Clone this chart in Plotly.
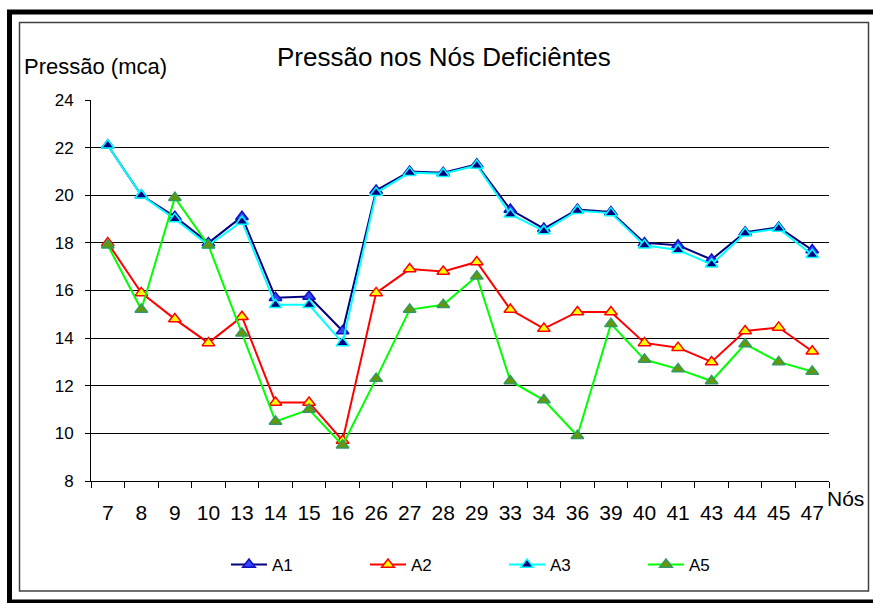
import plotly.graph_objects as go

nodes = ["7", "8", "9", "10", "13", "14", "15", "16", "26", "27", "28", "29",
         "33", "34", "36", "39", "40", "41", "43", "44", "45", "47"]

a1 = [22.1, 20.0, 19.1, 18.0, 19.1, 15.7, 15.75, 14.3, 20.2, 21.0, 20.95, 21.3,
      19.4, 18.6, 19.4, 19.3, 18.0, 17.9, 17.3, 18.45, 18.65, 17.7]
a2 = [18.0, 15.9, 14.8, 13.8, 14.9, 11.3, 11.3, 9.7, 15.9, 16.9, 16.8, 17.2,
      15.2, 14.4, 15.1, 15.1, 13.8, 13.6, 13.0, 14.3, 14.45, 13.45]
a3 = [22.1, 20.0, 19.0, 17.9, 18.9, 15.4, 15.4, 13.8, 20.1, 20.95, 20.9, 21.25,
      19.2, 18.5, 19.35, 19.25, 17.9, 17.7, 17.1, 18.4, 18.6, 17.5]
a5 = [17.9, 15.2, 19.9, 17.9, 14.2, 10.5, 11.0, 9.5, 12.3, 15.2, 15.4, 16.6,
      12.2, 11.4, 9.9, 14.6, 13.1, 12.7, 12.2, 13.75, 13.0, 12.6]

y_ticks = [8, 10, 12, 14, 16, 18, 20, 22, 24]

W, H = 873, 603
L, R, T, B = 91, 829, 100, 481


def px(x):
    return (x - L) / (R - L)


def py(y):
    return (B - y) / (B - T)


FONT = "Liberation Sans, Arial, sans-serif"

series = [
    ("A1", a1, "#000080", "#3344FF", "#1010C0"),
    ("A2", a2, "#FF0000", "#FFFF00", "#FF0000"),
    ("A3", a3, "#00FFFF", "#000080", "#00FFFF"),
    ("A5", a5, "#00FF00", "#669900", "#339966"),
]

fig = go.Figure()
for name, vals, lc, fill, outline in series:
    fig.add_trace(go.Scatter(
        x=nodes, y=vals, name=name, mode="lines+markers",
        line=dict(color=lc, width=2),
        marker=dict(symbol="triangle-up", size=11, color=fill,
                    line=dict(color=outline, width=1.5)),
    ))

fig.update_layout(
    width=W, height=H,
    margin=dict(l=L, r=W - R, t=T, b=H - B, pad=0),
    paper_bgcolor="white", plot_bgcolor="white",
    font=dict(family=FONT, size=17, color="black"),
    showlegend=True,
    legend=dict(orientation="h", x=px(226), y=py(565), xanchor="left", yanchor="middle",
                entrywidth=88, entrywidthmode="pixels", itemwidth=36,
                font=dict(size=17), bgcolor="rgba(0,0,0,0)"),
    xaxis=dict(type="category", range=[-0.5, len(nodes) - 0.5],
               showline=True, linecolor="black", linewidth=1,
               ticks="outside", ticklen=6, tickcolor="black", tickson="boundaries",
               tickangle=0, showgrid=False, tickfont=dict(size=21),
               ticklabelstandoff=13, fixedrange=True),
    yaxis=dict(range=[8, 24], tickvals=y_ticks, showline=True, linecolor="black",
               linewidth=1, ticks="outside", ticklen=5, tickcolor="black",
               showgrid=True, gridcolor="black", gridwidth=1, zeroline=False,
               tickfont=dict(size=17), ticklabelstandoff=8, fixedrange=True),
    shapes=[
        dict(type="rect", xref="paper", yref="paper",
             x0=px(9.5), x1=px(880), y0=py(12), y1=py(602),
             line=dict(color="black", width=5), fillcolor="rgba(0,0,0,0)", layer="above"),
        dict(type="rect", xref="paper", yref="paper",
             x0=px(19.5), x1=px(868.5), y0=py(22.5), y1=py(591),
             line=dict(color="#404040", width=1.5), fillcolor="rgba(0,0,0,0)", layer="above"),
    ],
    annotations=[
        dict(text="Pressão nos Nós Deficiêntes", xref="paper", yref="paper",
             x=px(444), y=py(57), xanchor="center", yanchor="middle",
             showarrow=False, font=dict(size=26)),
        dict(text="Pressão (mca)", xref="paper", yref="paper",
             x=px(22), y=py(67), xanchor="left", yanchor="middle",
             showarrow=False, font=dict(size=22)),
        dict(text="Nós", xref="paper", yref="paper",
             x=px(825), y=py(499), xanchor="left", yanchor="middle",
             showarrow=False, font=dict(size=21)),
    ],
)

fig.write_html("out.html", config={"displayModeBar": False},
               post_script="document.body.style.margin='0';")
